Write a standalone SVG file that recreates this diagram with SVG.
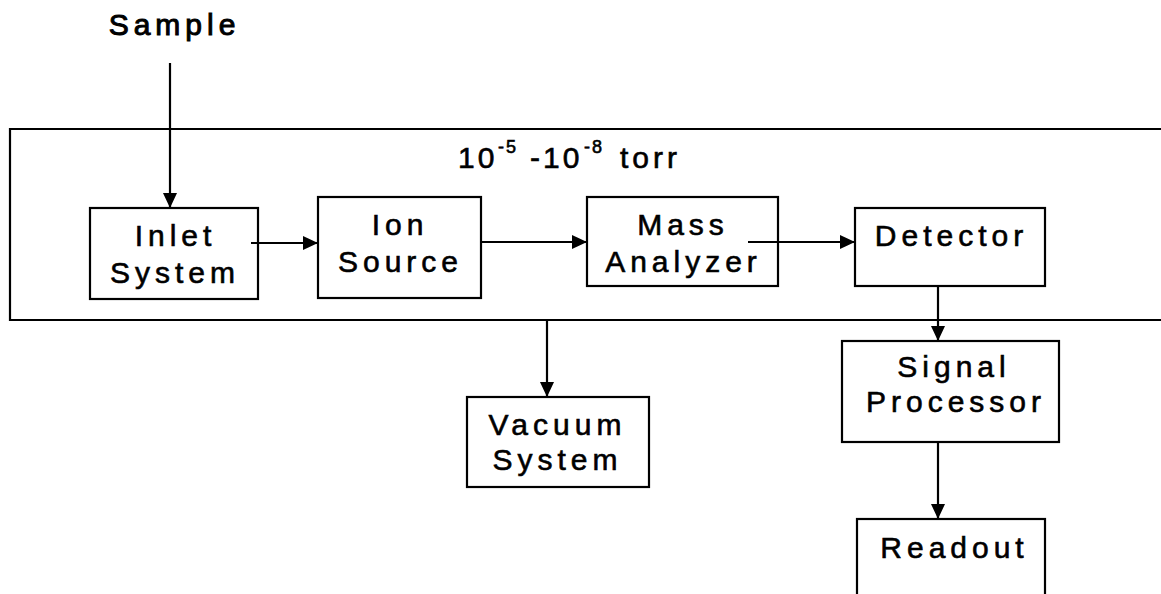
<svg xmlns="http://www.w3.org/2000/svg" width="1161" height="594" viewBox="0 0 1161 594">
  <style>
    .box { fill: #fff; stroke: #000; stroke-width: 2.2; }
    .lbl { font-family: "Liberation Sans", Arial, sans-serif; font-size: 30px; letter-spacing: 5px; fill: #000; stroke: #000; stroke-width: 0.6px; text-anchor: middle; }
    .conn { stroke: #000; stroke-width: 2.2; fill: none; marker-end: url(#arr); }
    .frame { stroke: #000; stroke-width: 2.2; fill: none; }
  </style>
  <defs>
    <marker id="arr" markerUnits="userSpaceOnUse" markerWidth="15" markerHeight="14" refX="15" refY="7" orient="auto">
      <path d="M0,0 L15,7 L0,14 Z" fill="#000"/>
    </marker>
  </defs>
  <rect width="1161" height="594" fill="#fff"/>

  <g id="vacuum-chamber">
    <path class="frame" d="M1161,129 H10 V320 H1161"/>
    <text font-family="Liberation Sans, Arial, sans-serif" font-size="30" fill="#000" stroke="#000" stroke-width="0.6">
      <tspan x="458" y="168" letter-spacing="3">10</tspan><tspan x="498" y="153" font-size="18" letter-spacing="2">-5</tspan><tspan x="530" y="168" letter-spacing="3">-10</tspan><tspan x="584" y="153" font-size="18" letter-spacing="2">-8</tspan><tspan x="620" y="168" letter-spacing="4">torr</tspan>
    </text>
  </g>

  <g id="sample">
    <text class="lbl" x="174.5" y="35" style="stroke-width:1px">Sample</text>
  </g>

  <g id="inlet-system">
    <rect class="box" x="90" y="208" width="168" height="91"/>
    <text class="lbl" x="175.5" y="246">Inlet</text>
    <text class="lbl" x="175" y="283">System</text>
  </g>

  <g id="ion-source">
    <rect class="box" x="318" y="197" width="163" height="101"/>
    <text class="lbl" x="400" y="235">Ion</text>
    <text class="lbl" x="400.5" y="272">Source</text>
  </g>

  <g id="mass-analyzer">
    <rect class="box" x="587" y="197" width="191" height="89"/>
    <text class="lbl" x="683" y="235">Mass</text>
    <text class="lbl" x="683.5" y="272">Analyzer</text>
  </g>

  <g id="detector">
    <rect class="box" x="855" y="208" width="190" height="78"/>
    <text class="lbl" x="951.5" y="246">Detector</text>
  </g>

  <g id="signal-processor">
    <rect class="box" x="842" y="341" width="217" height="101"/>
    <text class="lbl" x="954" y="377">Signal</text>
    <text class="lbl" x="956" y="412">Processor</text>
  </g>

  <g id="vacuum-system">
    <rect class="box" x="467" y="397" width="182" height="90"/>
    <text class="lbl" x="557.5" y="435">Vacuum</text>
    <text class="lbl" x="557.5" y="470">System</text>
  </g>

  <g id="readout">
    <rect class="box" x="857" y="519" width="188" height="90"/>
    <text class="lbl" x="954.5" y="558">Readout</text>
  </g>

  <g id="connectors">
    <line class="conn" x1="170" y1="63" x2="170" y2="208"/>
    <line class="conn" x1="251" y1="243" x2="318" y2="243"/>
    <line class="conn" x1="481" y1="242" x2="587" y2="242"/>
    <line class="conn" x1="748" y1="242" x2="855" y2="242"/>
    <line class="conn" x1="938" y1="286" x2="938" y2="341"/>
    <line class="conn" x1="547" y1="320" x2="547" y2="397"/>
    <line class="conn" x1="938" y1="442" x2="938" y2="519"/>
  </g>
</svg>
